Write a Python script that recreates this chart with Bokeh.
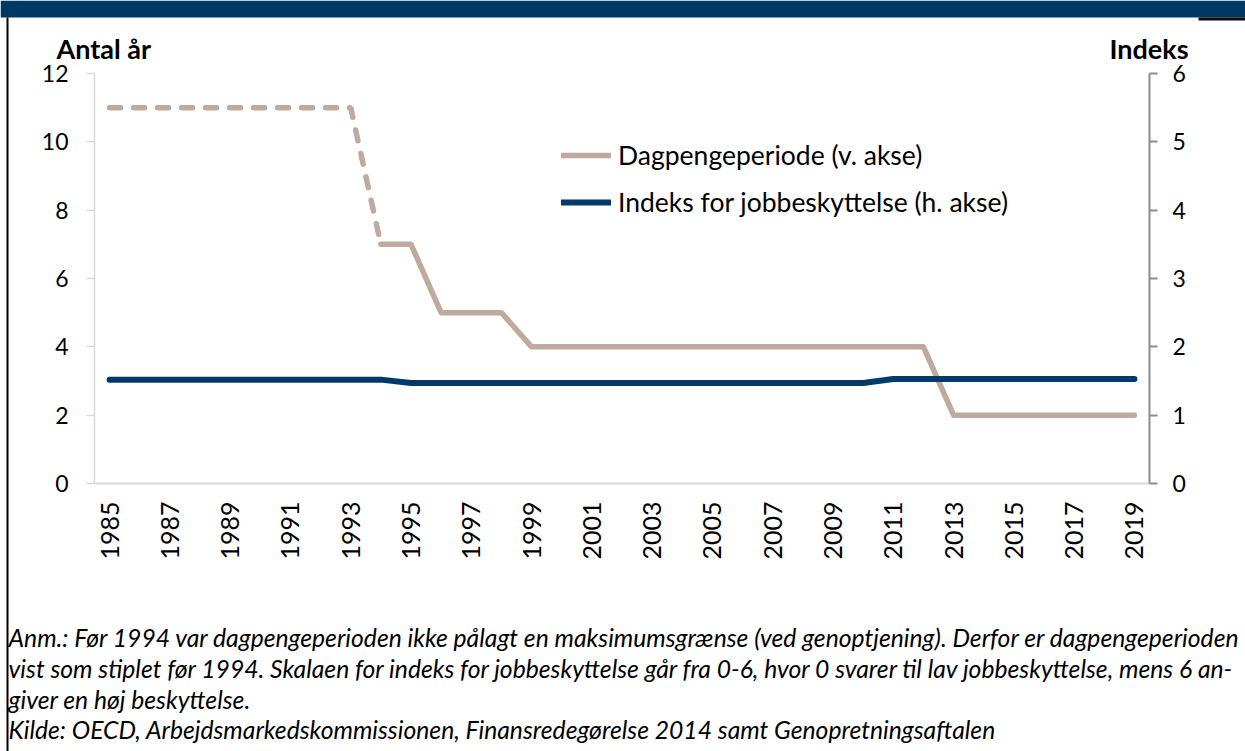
import math
from bokeh.plotting import figure
from bokeh.models import (Range1d, LinearAxis, FixedTicker, Label, Legend,
                          LegendItem, BoxAnnotation)
from bokeh.embed import file_html
from bokeh.resources import INLINE

# ---------------- data ----------------
years = [1985, 1986, 1987, 1988, 1989, 1990, 1991, 1992, 1993, 1994,
         1995, 1996, 1997, 1998, 1999, 2000, 2001, 2002, 2003, 2004,
         2005, 2006, 2007, 2008, 2009, 2010, 2011, 2012, 2013, 2014,
         2015, 2016, 2017, 2018, 2019]
dagpengeperiode = [11, 11, 11, 11, 11, 11, 11, 11, 11, 7,
                   7, 5, 5, 5, 4, 4, 4, 4, 4, 4,
                   4, 4, 4, 4, 4, 4, 4, 4, 2, 2,
                   2, 2, 2, 2, 2]
jobbeskyttelse = [1.52, 1.52, 1.52, 1.52, 1.52, 1.52, 1.52, 1.52, 1.52, 1.52,
                  1.47, 1.47, 1.47, 1.47, 1.47, 1.47, 1.47, 1.47, 1.47, 1.47,
                  1.47, 1.47, 1.47, 1.47, 1.47, 1.47, 1.53, 1.53, 1.53, 1.53,
                  1.53, 1.53, 1.53, 1.53, 1.53]
dashed_until = 1994          # dashed (stiplet) before 1994
x_ticks = [1985, 1987, 1989, 1991, 1993, 1995, 1997, 1999, 2001, 2003,
           2005, 2007, 2009, 2011, 2013, 2015, 2017, 2019]
left_ticks = [0, 2, 4, 6, 8, 10, 12]
right_ticks = [0, 1, 2, 3, 4, 5, 6]
left_title = "Antal år"
right_title = "Indeks"
legend_labels = ["Dagpengeperiode (v. akse)", "Indeks for jobbeskyttelse (h. akse)"]
notes = [
    "Anm.: Før 1994 var dagpengeperioden ikke pålagt en maksimumsgrænse (ved genoptjening). Derfor er dagpengeperioden",
    "vist som stiplet før 1994. Skalaen for indeks for jobbeskyttelse går fra 0-6, hvor 0 svarer til lav jobbeskyttelse, mens 6 an-",
    "giver en høj beskyttelse.",
    "Kilde: OECD, Arbejdsmarkedskommissionen, Finansredegørelse 2014 samt Genopretningsaftalen",
]

# ---------------- layout / style ----------------
TAN = "#bfaa9f"
NAVY = "#003a6a"
BAR = "#003865"
W, H = 1245, 751
PL, PR, PT, PB = 94, 1149, 73, 483        # plot area in page pixels
X0, X1 = 1984.5, 2019.5
YL0, YL1 = 0, 12
YR0, YR1 = 0, 6

kx = (X1 - X0) / (PR - PL)
ky = (YL1 - YL0) / (PB - PT)
kr = (YR1 - YR0) / (PB - PT)
x_start, x_end = X0 - PL * kx, X1 + (W - PR) * kx
y_start, y_end = YL0 - (H - PB) * ky, YL1 + PT * ky
r_start, r_end = YR0 - (H - PB) * kr, YR1 + PT * kr


def xd(px):
    return x_start + px * kx


def yd(py):
    return y_end - py * ky


p = figure(width=W, height=H, output_backend="svg", toolbar_location=None,
           x_range=Range1d(x_start, x_end), y_range=Range1d(y_start, y_end),
           x_axis_location=None, y_axis_location=None, min_border=0)
p.extra_y_ranges = {"idx": Range1d(r_start, r_end)}
p.outline_line_color = None
p.background_fill_color = "white"
p.border_fill_color = "white"
for g in p.grid:
    g.visible = False
p.grid.grid_line_color = None

# bottom axis
xa = LinearAxis(fixed_location=YL0, ticker=FixedTicker(ticks=x_ticks),
                bounds=(X0, X1))
xa.major_label_orientation = math.pi / 2
xa.major_tick_out = 0
xa.major_tick_in = 0
xa.minor_tick_out = 0
xa.minor_tick_in = 0
xa.axis_line_color = "#d9d9d9"
xa.axis_line_width = 2
xa.major_label_standoff = 18
xa.major_label_text_font = "Lato"
xa.major_label_text_font_size = "25px"
xa.major_label_text_color = "black"
p.add_layout(xa, "below")

# left axis
ya = LinearAxis(fixed_location=X0, ticker=FixedTicker(ticks=left_ticks),
                bounds=(YL0, YL1))
ya.major_tick_out = 8
ya.major_tick_in = 0
ya.minor_tick_out = 0
ya.minor_tick_in = 0
ya.axis_line_color = "#d9d9d9"
ya.major_tick_line_color = "#d9d9d9"
ya.axis_line_width = 1.5
ya.major_tick_line_width = 1.5
ya.major_label_standoff = 18
ya.major_label_text_font = "Lato"
ya.major_label_text_font_size = "23px"
ya.major_label_text_color = "black"
p.add_layout(ya, "left")

# right axis
ra = LinearAxis(fixed_location=X1, y_range_name="idx",
                ticker=FixedTicker(ticks=right_ticks), bounds=(YR0, YR1))
ra.major_tick_out = 8
ra.major_tick_in = 0
ra.minor_tick_out = 0
ra.minor_tick_in = 0
ra.axis_line_color = "#8c8c8c"
ra.major_tick_line_color = "#8c8c8c"
ra.axis_line_width = 2
ra.major_tick_line_width = 2
ra.major_label_standoff = 15
ra.major_label_text_font = "Lato"
ra.major_label_text_font_size = "23px"
ra.major_label_text_color = "black"
p.add_layout(ra, "right")

# lines
cut = years.index(dashed_until)
r_dash = p.line(years[:cut + 1], dagpengeperiode[:cut + 1], line_color=TAN,
                line_width=5.5, line_dash="11 13", line_cap="round")
r_solid = p.line(years[cut:], dagpengeperiode[cut:], line_color=TAN,
                 line_width=5.5, line_cap="round", line_join="round")
r_idx = p.line(years, jobbeskyttelse, y_range_name="idx", line_color=NAVY,
               line_width=6, line_cap="round", line_join="round")

legend = Legend(items=[LegendItem(label=legend_labels[0], renderers=[r_solid]),
                       LegendItem(label=legend_labels[1], renderers=[r_idx])],
                location=(561, H - 222), orientation="vertical",
                glyph_width=50, glyph_height=40, label_height=40,
                label_standoff=7, spacing=7, padding=0, margin=0,
                border_line_color=None, background_fill_alpha=0,
                label_text_font="Lato", label_text_font_size="26.5px",
                label_text_color="black")
p.add_layout(legend)

# axis titles
p.add_layout(Label(x=xd(56), y=yd(48), text=left_title, text_font="Lato",
                   text_font_style="bold", text_font_size="27px",
                   text_color="black", text_baseline="alphabetic",
                   text_align="left"))
p.add_layout(Label(x=xd(1188), y=yd(48), text=right_title, text_font="Lato",
                   text_font_style="bold", text_font_size="27px",
                   text_color="black", text_baseline="alphabetic",
                   text_align="right"))

# notes
note_centers = [637, 668, 699, 729]
for t, c in zip(notes, note_centers):
    p.add_layout(Label(x=xd(8), y=yd(c), text=t, text_font="Lato",
                       text_font_style="italic", text_font_size="24.7px",
                       text_color="black", text_baseline="middle",
                       text_align="left"))

# frame decorations: top bar, right dark stub and left border
p.add_layout(BoxAnnotation(left=xd(0), right=xd(W), top=yd(0), bottom=yd(17),
                           fill_color=BAR, fill_alpha=1, line_color=None))
p.add_layout(BoxAnnotation(left=xd(1198), right=xd(W), top=yd(17), bottom=yd(20),
                           fill_color="#0a0a0a", fill_alpha=1, line_color=None))
p.add_layout(BoxAnnotation(left=xd(6), right=xd(8), top=yd(17), bottom=yd(H),
                           fill_color="black", fill_alpha=1, line_color=None))

open("out.html", "w").write(file_html(p, INLINE))
